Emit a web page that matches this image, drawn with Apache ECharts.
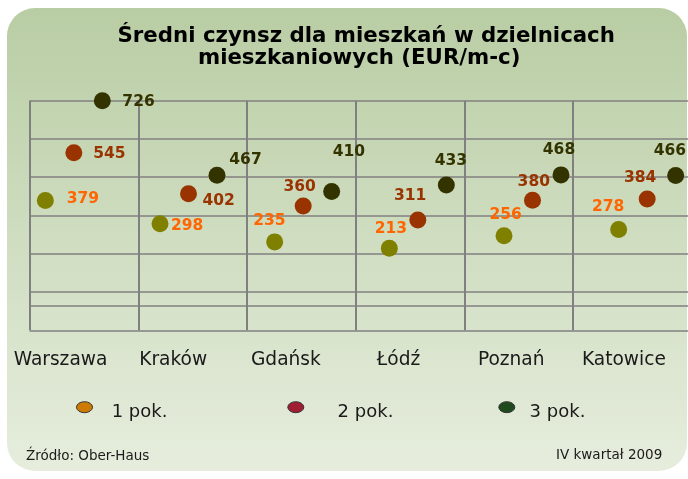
<!DOCTYPE html>
<html><head><meta charset="utf-8">
<script src="https://cdn.jsdelivr.net/npm/echarts@6/dist/echarts.min.js"></script>
<style>html,body{margin:0;padding:0;background:#fff}#c{width:688px;height:479px}</style>
</head><body><div id="c"></div>
<script>
// ---- data ----
const titleLine1 = 'Średni czynsz dla mieszkań w dzielnicach';
const titleLine2 = 'mieszkaniowych (EUR/m-c)';
const cities = ['Warszawa', 'Kraków', 'Gdańsk', 'Łódź', 'Poznań', 'Katowice'];
const seriesNames = ['1 pok.', '2 pok.', '3 pok.'];
const rooms1 = [379, 298, 235, 213, 256, 278];
const rooms2 = [545, 402, 360, 311, 380, 384];
const rooms3 = [726, 467, 410, 433, 468, 466];
const sourceNote = 'Źródło: Ober-Haus';
const periodNote = 'IV kwartał 2009';

// ---- styles ----
const FONT = 'DejaVu Sans';
const dotColors = ['#808000', '#993300', '#333300'];
const labelColors = ['#FF6600', '#993300', '#333300'];
const legendColors = ['#CC7A00', '#A01E32', '#1E4A1E'];
const symbolOffsets = [-28.5, 0, 28.5];
const labelOffsets = [
  [[37.5, -1.7], [27.2, 2.7], [-5.2, -20.6], [1.5, -19], [1.7, -21], [-10.6, -22.7]],
  [[35.5, 1.3], [30.2, 7], [-3.6, -18.7], [-7.7, -23.7], [1.3, -18.7], [-7, -20.7]],
  [[36.2, 1.6], [28.5, -15.6], [17.3, -40], [4.5, -24.4], [-2, -25], [-5.7, -24]]
];
const legendLeft = [76, 287.3, 498.3];
const legendTextPad = [14.2, 28.8, 9.8];
// ellipse in the upper part of a 16x22 box
const legendIcon = 'path://M0,5.5A8,5.5,0,1,1,16,5.5A8,5.5,0,1,1,0,5.5ZM0,22';
const gridLine = '#808080';

const allValues = [rooms1, rooms2, rooms3];
const TOP = 100.7, BOTTOM = 148.7;

const chart = echarts.init(document.getElementById('c'), null, {renderer: 'canvas'});

const series = allValues.map((vals, s) => ({
  name: seriesNames[s],
  type: 'scatter',
  xAxisIndex: 3, yAxisIndex: 3,
  symbol: 'circle',
  symbolSize: 17,
  symbolOffset: [symbolOffsets[s], 0],
  itemStyle: {color: dotColors[s], opacity: 1},
  label: {show: true, position: 'inside', color: labelColors[s],
          fontFamily: FONT, fontWeight: 'bold', fontSize: 15.5},
  emphasis: {disabled: true},
  clip: false,
  data: vals.map((v, i) => ({value: v, label: {offset: labelOffsets[s][i]}})),
  z: 5
}));
// extra horizontal frame line (near the bottom of the frame)
series.push({
  type: 'line', xAxisIndex: 0, yAxisIndex: 0, data: [], silent: true,
  markLine: {
    silent: true, symbol: 'none', label: {show: false}, animation: false,
    lineStyle: {color: gridLine, width: 1.5, type: 'solid'},
    emphasis: {disabled: true},
    data: [{yAxis: 0.635}]
  }
});

const legends = seriesNames.map((n, s) => ({
  data: [{name: n, itemStyle: {color: legendColors[s], borderColor: '#333', borderWidth: 1}}],
  left: legendLeft[s], top: 401.2, padding: 0,
  icon: legendIcon, itemWidth: 16, itemHeight: 22,
  selectedMode: false,
  textStyle: {fontFamily: FONT, fontSize: 18, color: '#1a1a1a', padding: [0, 0, 0, legendTextPad[s]]}
}));

const option = {
  animation: false,
  graphic: [{
    type: 'rect', z: -10, silent: true,
    shape: {x: 7, y: 8, width: 680, height: 463, r: 28},
    style: {fill: new echarts.graphic.LinearGradient(0, 0, 0, 1, [
      {offset: 0, color: '#B9CDA4'}, {offset: 1, color: '#E6EDDD'}])}
  }],
  title: [
    {text: titleLine1, left: 366.2, top: 25.8, textAlign: 'center', padding: 0,
     textStyle: {fontFamily: FONT, fontSize: 21.3, fontWeight: 'bold', color: '#000'}},
    {text: titleLine2, left: 359.2, top: 47.7, textAlign: 'center', padding: 0,
     textStyle: {fontFamily: FONT, fontSize: 21.3, fontWeight: 'bold', color: '#000'}},
    {text: sourceNote, left: 26, top: 449.3, padding: 0,
     textStyle: {fontFamily: FONT, fontSize: 13.5, fontWeight: 'normal', color: '#1a1a1a'}},
    {text: periodNote, left: 556, top: 448.6, padding: 0,
     textStyle: {fontFamily: FONT, fontSize: 13.5, fontWeight: 'normal', color: '#1a1a1a'}}
  ],
  legend: legends,
  grid: [
    {left: 29.6, right: 0, top: TOP, bottom: BOTTOM, outerBoundsMode: 'none'},        // horizontal lines
    {left: 29.6, right: 114.9, top: TOP, bottom: BOTTOM, outerBoundsMode: 'none'},    // vertical lines
    {left: 4.2, right: 7.8, top: TOP, bottom: BOTTOM, outerBoundsMode: 'none'},       // city labels
    {left: 16.5, width: 688, top: TOP, bottom: BOTTOM, outerBoundsMode: 'none'}       // data
  ],
  xAxis: [
    {gridIndex: 0, type: 'value', min: 0, max: 1, show: false},
    {gridIndex: 1, type: 'value', min: 0, max: 5, interval: 1,
     axisLine: {show: false}, axisTick: {show: false}, axisLabel: {show: false},
     splitLine: {show: true, lineStyle: {color: gridLine, width: 2}}},
    {gridIndex: 2, type: 'category', data: cities,
     axisLine: {show: false}, axisTick: {show: false}, splitLine: {show: false},
     axisLabel: {show: true, margin: 20.3, fontFamily: FONT, fontSize: 18.6, color: '#1a1a1a', interval: 0}},
    {gridIndex: 3, type: 'category', data: cities, show: false}
  ],
  yAxis: [
    {gridIndex: 0, type: 'value', min: 0, max: 6, interval: 1,
     axisLine: {show: false}, axisTick: {show: false}, axisLabel: {show: false},
     splitLine: {show: true, lineStyle: {color: gridLine, width: 1.5}}},
    {gridIndex: 1, type: 'value', min: 0, max: 1, show: false},
    {gridIndex: 2, type: 'value', min: 0, max: 1, show: false},
    {gridIndex: 3, type: 'value', min: -72.5, max: 726, show: false}
  ],
  series: series
};
chart.setOption(option);
</script>
</body></html>
